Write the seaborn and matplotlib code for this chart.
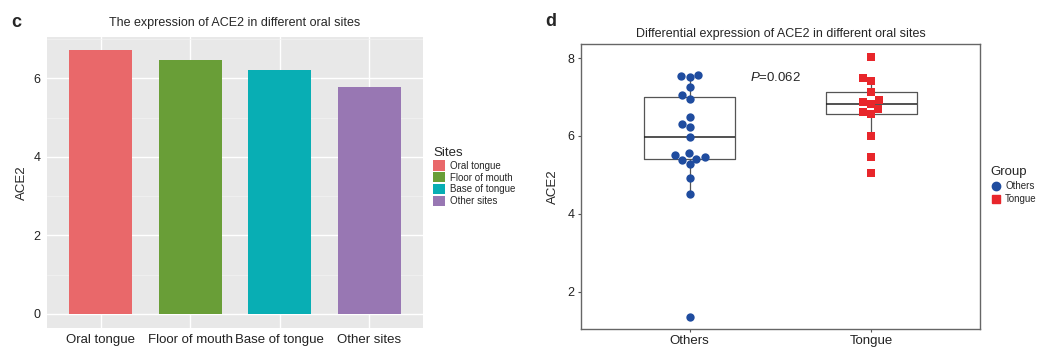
import pandas as pd
import seaborn as sns
import matplotlib.pyplot as plt

# panel c: mean ACE2 by site
sites = ['Oral tongue', 'Floor of mouth', 'Base of tongue', 'Other sites']
site_ace2 = [6.72, 6.46, 6.22, 5.77]
site_colors = ['#E9686A', '#699E37', '#08AEB4', '#9877B3']

# panel d: per-sample ACE2
others_ace2 = [7.57, 7.55, 7.52, 7.27, 7.05, 6.95, 6.50, 6.32, 6.22, 5.97,
               5.55, 5.50, 5.45, 5.42, 5.38, 5.28, 4.91, 4.52, 1.35]
tongue_ace2 = [8.02, 7.48, 7.42, 7.13, 6.92, 6.88, 6.83, 6.70, 6.62, 6.56,
               6.00, 5.46, 5.06]
groups = ['Others', 'Tongue']
group_colors = {'Others': '#1F4C9F', 'Tongue': '#E8262B'}


def main():
    sns.set_style('white')
    plt.rcParams['font.family'] = ['Liberation Sans', 'DejaVu Sans']
    plt.rcParams['mathtext.fontset'] = 'custom'
    plt.rcParams['mathtext.it'] = 'Liberation Sans:italic'
    plt.rcParams['mathtext.rm'] = 'Liberation Sans'

    fig = plt.figure(figsize=(10.52, 3.53), dpi=100)

    # ---- panel c ----
    ax1 = fig.add_axes([0.0447, 0.0708, 0.3574, 0.8244])
    ax1.set_facecolor('#E8E8E8')
    df1 = pd.DataFrame({'Sites': sites, 'ACE2': site_ace2})
    sns.barplot(data=df1, x='Sites', y='ACE2', hue='Sites', order=sites,
                hue_order=sites, palette=site_colors, width=0.7, dodge=False,
                saturation=1, legend=True, linewidth=0, ax=ax1, zorder=3)
    ax1.set_ylim(-0.36, 7.05)
    ax1.set_xlim(-0.6, 3.6)
    ax1.set_yticks([0, 2, 4, 6])
    ax1.set_yticks([1, 3, 5, 7], minor=True)
    ax1.grid(True, which='major', color='white', linewidth=1.0, zorder=0)
    ax1.grid(True, which='minor', color='#F3F3F3', linewidth=0.5, zorder=0)
    ax1.set_axisbelow(True)
    for s in ax1.spines.values():
        s.set_visible(False)
    ax1.tick_params(axis='both', length=2.5, color='#333333', labelsize=9,
                    labelcolor='#222222', pad=2)
    ax1.tick_params(axis='x', labelsize=9.5)
    ax1.set_xlabel('')
    ax1.set_ylabel('ACE2', fontsize=9.5, labelpad=4)
    ax1.set_title('The expression of ACE2 in different oral sites',
                  fontsize=9, pad=8)
    handles, labels = ax1.get_legend_handles_labels()
    ax1.legend(handles, labels, title='Sites', loc='upper left',
               bbox_to_anchor=(0.408, 0.595), bbox_transform=fig.transFigure,
               frameon=False, fontsize=7, title_fontsize=9.5,
               handlelength=1.25, handleheight=1.25, handletextpad=0.5,
               labelspacing=0.15, alignment='left', borderaxespad=0)

    # ---- panel d ----
    ax2 = fig.add_axes([0.552, 0.068, 0.380, 0.807])
    df2 = pd.DataFrame({
        'Group': ['Others'] * len(others_ace2) + ['Tongue'] * len(tongue_ace2),
        'ACE2': others_ace2 + tongue_ace2,
    })
    sns.boxplot(data=df2, x='Group', y='ACE2', order=groups, width=0.5,
                fill=False, color='#555555', linecolor='#777777',
                linewidth=0.9, showfliers=False, showcaps=False, whis=1.5,
                medianprops={'color': '#222222', 'linewidth': 1.1}, ax=ax2)
    markers = {'Others': 'o', 'Tongue': 's'}
    for g in groups:
        sub = df2[df2['Group'] == g]
        sns.swarmplot(data=sub, x='Group', y='ACE2', order=groups,
                      color=group_colors[g], marker=markers[g], size=6,
                      linewidth=0, ax=ax2, zorder=4)
    ax2.set_xlim(-0.6, 1.6)
    ax2.set_ylim(1.04, 8.36)
    ax2.set_yticks([2, 4, 6, 8])
    ax2.grid(False)
    for s in ax2.spines.values():
        s.set_color('#666666')
        s.set_linewidth(1.0)
    ax2.tick_params(axis='both', length=2.5, color='#555555', labelsize=9,
                    labelcolor='#222222', pad=2, bottom=True, left=True)
    ax2.tick_params(axis='x', labelsize=9.5)
    ax2.set_xlabel('')
    ax2.set_ylabel('ACE2', fontsize=9.5, labelpad=6)
    ax2.set_title('Differential expression of ACE2 in different oral sites',
                  fontsize=9, pad=5)
    ax2.text(0.33, 7.49, r'$P$=0.062', fontsize=9.5, ha='left', va='center')

    leg_handles = [
        plt.Line2D([], [], marker='o', linestyle='', color=group_colors['Others'],
                   markersize=6),
        plt.Line2D([], [], marker='s', linestyle='', color=group_colors['Tongue'],
                   markersize=6),
    ]
    ax2.legend(leg_handles, groups, title='Group', loc='upper left',
               bbox_to_anchor=(0.938, 0.54), bbox_transform=fig.transFigure,
               frameon=False, fontsize=7, title_fontsize=9.5,
               handlelength=1.0, handletextpad=0.5, labelspacing=0.3,
               alignment='left', borderaxespad=0)

    # panel letters
    fig.text(0.011, 0.935, 'c', fontsize=13, fontweight='bold', va='center')
    fig.text(0.518, 0.94, 'd', fontsize=13, fontweight='bold', va='center')

    fig.savefig('out.png', dpi=100)
    plt.close(fig)


if __name__ == '__main__':
    main()
